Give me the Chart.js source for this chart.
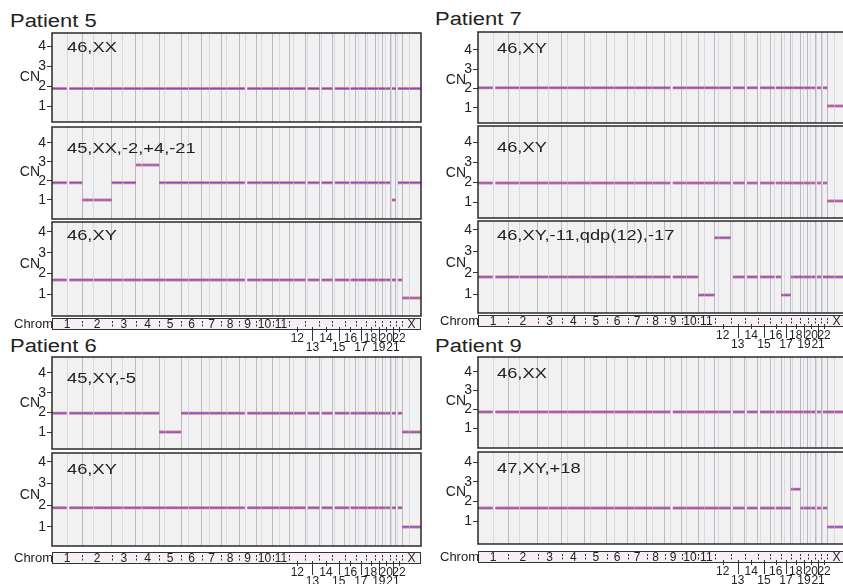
<!DOCTYPE html>
<html>
<head>
<meta charset="utf-8">
<script src="https://cdn.jsdelivr.net/npm/chart.js@4"></script>
<style>
html, body { margin: 0; padding: 0; background: #fff; overflow: hidden; }
#wrap { position: relative; width: 843px; height: 584px; overflow: hidden; }
#wrap canvas { position: absolute; }
.title { position: absolute; font: 18px "Liberation Sans", Arial, sans-serif; line-height: 18px; color: #222;
  transform: scaleX(1.22); transform-origin: 0 0; white-space: nowrap; }
</style>
</head>
<body>
<div id="wrap"></div>
<script>
const patients = ['Patient 5', 'Patient 6', 'Patient 7', 'Patient 9'];
const karyotypes = ['46,XX', '45,XX,-2,+4,-21', '46,XY', '45,XY,-5', '46,XY',
  '46,XY', '46,XY', '46,XY,-11,qdp(12),-17', '46,XX', '47,XY,+18'];

// chromosomes (Mb), the probe-free gap round each centromere
const chroms = ['1','2','3','4','5','6','7','8','9','10','11','12','13','14','15','16','17','18','19','20','21','22','X'];
const chromLen = [249,243,198,191,181,171,159,146,141,136,135,134,115,107,103,90,81,78,59,63,48,51,155];
const gapStart = [121,90,88,48,46,58,58,44,47,39,51,34,0,0,0,35,22,15,24,26,0,0,58];
const gapEnd   = [143,96,94,53,50,63,62,48,68,43,55,38,19,19,20,46,25,18,28,30,15,16,62];
const centro   = [125,93,91,50,48,60,60,45,49,40,53,35,17,17,19,36,24,17,26,28,13,15,60];

// copy number per chromosome (1..22, X)
const cnP5a = [1.87,1.87,1.87,1.87,1.87,1.87,1.87,1.87,1.87,1.87,1.87,1.87,1.87,1.87,1.87,1.87,1.87,1.87,1.87,1.87,1.87,1.87,1.87];
const cnP5b = [1.91,1.0,1.91,2.84,1.91,1.91,1.91,1.91,1.91,1.91,1.91,1.91,1.91,1.91,1.91,1.91,1.91,1.91,1.91,1.91,1.0,1.91,1.91];
const cnP5c = [1.68,1.68,1.68,1.68,1.68,1.68,1.68,1.68,1.68,1.68,1.68,1.68,1.68,1.68,1.68,1.68,1.68,1.68,1.68,1.68,1.68,1.68,0.81];
const cnP6a = [1.96,1.96,1.96,1.96,1.0,1.96,1.96,1.96,1.96,1.96,1.96,1.96,1.96,1.96,1.96,1.96,1.96,1.96,1.96,1.96,1.96,1.96,1.0];
const cnP6b = [1.88,1.88,1.88,1.88,1.88,1.88,1.88,1.88,1.88,1.88,1.88,1.88,1.88,1.88,1.88,1.88,1.88,1.88,1.88,1.88,1.88,1.88,1.0];
const cnP7a = [2.04,2.04,2.04,2.04,2.04,2.04,2.04,2.04,2.04,2.04,2.04,2.04,2.04,2.04,2.04,2.04,2.04,2.04,2.04,2.04,2.04,2.04,1.1];
const cnP7b = [1.95,1.95,1.95,1.95,1.95,1.95,1.95,1.95,1.95,1.95,1.95,1.95,1.95,1.95,1.95,1.95,1.95,1.95,1.95,1.95,1.95,1.95,1.05];
const cnP7c = [1.8,1.8,1.8,1.8,1.8,1.8,1.8,1.8,1.8,1.8,0.95,3.63,1.8,1.8,1.8,1.8,0.95,1.8,1.8,1.8,1.8,1.8,1.8];
const cnP9a = [1.86,1.86,1.86,1.86,1.86,1.86,1.86,1.86,1.86,1.86,1.86,1.86,1.86,1.86,1.86,1.86,1.86,1.86,1.86,1.86,1.86,1.86,1.86];
const cnP9b = [1.66,1.66,1.66,1.66,1.66,1.66,1.66,1.66,1.66,1.66,1.66,1.66,1.66,1.66,1.66,1.66,1.66,2.62,1.66,1.66,1.66,1.66,0.7];

const FONT = '"Liberation Sans", Arial, sans-serif';
const genome = chromLen.reduce((a, b) => a + b, 0);

// layout of the ten tracks
const panels = [
  { col: 0, top: 33,  bottom: 122, yMin: 0.2,   yMax: 4.65, cn: cnP5a, k: 0, dy: 19 },
  { col: 0, top: 127, bottom: 219, yMin: 0.0,   yMax: 4.84, cn: cnP5b, k: 1, dy: 26 },
  { col: 0, top: 222, bottom: 316, yMin: -0.06, yMax: 4.48, cn: cnP5c, k: 2, dy: 18, bar: 2 },
  { col: 0, top: 357, bottom: 449, yMin: 0.14,  yMax: 4.81, cn: cnP6a, k: 3, dy: 26 },
  { col: 0, top: 453, bottom: 546, yMin: 0.12,  yMax: 4.41, cn: cnP6b, k: 4, dy: 21, bar: 6 },
  { col: 1, top: 32,  bottom: 123, yMin: 0.22,  yMax: 4.93, cn: cnP7a, k: 5, dy: 21 },
  { col: 1, top: 126, bottom: 218, yMin: 0.2,   yMax: 4.8,  cn: cnP7b, k: 6, dy: 26 },
  { col: 1, top: 221, bottom: 313, yMin: 0.11,  yMax: 4.42, cn: cnP7c, k: 7, dy: 19, bar: 2 },
  { col: 1, top: 357, bottom: 448, yMin: -0.07, yMax: 4.8,  cn: cnP9a, k: 8, dy: 21 },
  { col: 1, top: 452, bottom: 544, yMin: -0.17, yMax: 4.51, cn: cnP9b, k: 9, dy: 21, bar: 7 }
];

const wrap = document.getElementById('wrap');

[[10, 12, 0], [10, 337, 1], [435, 10, 2], [435, 337, 3]].forEach(([x, y, i]) => {
  const d = document.createElement('div');
  d.className = 'title';
  d.style.left = x + 'px';
  d.style.top = y + 'px';
  d.textContent = patients[i];
  wrap.appendChild(d);
});

// segments per chromosome arm, broken at the centromere gaps
const profile = (cn) => {
  const pts = [];
  let start = 0;
  chromLen.forEach((len, c) => {
    const segs = gapStart[c] > 0 ? [[0, gapStart[c]], [gapEnd[c], len]] : [[gapEnd[c], len]];
    segs.forEach(([a, b]) => {
      pts.push({ x: start + a, y: cn[c] }, { x: start + b, y: cn[c] }, { x: start + b, y: null });
    });
    start += len;
  });
  return pts;
};

const vlines = [];
let acc = 0;
chromLen.forEach((len, c) => {
  vlines.push({ value: acc + centro[c], kind: 'c' });
  acc += len;
  if (c < chromLen.length - 1) vlines.push({ value: acc, kind: 'b' });
});

const drawBar = (chart, gap) => {
  const { ctx, chartArea: a } = chart;
  const xs = chart.scales.x;
  const top = a.bottom + gap, h = 11;
  ctx.save();
  ctx.fillStyle = '#f6f0f6';
  ctx.fillRect(a.left, top, a.right - a.left, h);
  ctx.strokeStyle = '#333';
  ctx.lineWidth = 1;
  ctx.strokeRect(a.left + 0.5, top + 0.5, a.right - a.left - 1, h);
  ctx.fillStyle = '#222';
  ctx.textAlign = 'center';
  ctx.textBaseline = 'alphabetic';
  let s = 0;
  chromLen.forEach((len, c) => {
    const x0 = Math.round(xs.getPixelForValue(s)) + 0.5;
    const xm = xs.getPixelForValue(s + len / 2);
    if (c > 0) {
      ctx.setLineDash([2, 1.5]);
      ctx.beginPath();
      ctx.moveTo(x0, top + 3);
      ctx.lineTo(x0, top + h - 2);
      ctx.stroke();
      ctx.setLineDash([]);
    }
    if (c < 11 || c === 22) {
      ctx.font = '12px ' + FONT;
      ctx.fillText(chroms[c], xm, top + h - 1.5);
    } else {
      const odd = (c + 1) % 2 === 1;
      const xl = Math.round(xm) + 0.5;
      ctx.beginPath();
      ctx.moveTo(xl, top + h - 2);
      ctx.lineTo(xl, top + h + (odd ? 12 : 3));
      ctx.stroke();
      ctx.font = '12px ' + FONT;
      ctx.fillText(chroms[c], xm, top + h + (odd ? 22 : 13));
    }
    s += len;
  });
  ctx.font = '13px ' + FONT;
  ctx.textAlign = 'right';
  ctx.fillText('Chrom', a.left + 1, top + h - 1);
  ctx.restore();
};

panels.forEach((p) => {
  const extra = p.bar !== undefined ? 48 : 0;
  const cv = document.createElement('canvas');
  const w = p.col ? 420 : 423;
  const h = p.bottom - p.top + 20 + extra;
  cv.width = w; cv.height = h;
  cv.style.width = w + 'px'; cv.style.height = h + 'px';
  cv.style.left = (p.col ? 426 : 0) + 'px';
  cv.style.top = (p.top - 10) + 'px';
  wrap.appendChild(cv);

  const data = profile(p.cn);
  new Chart(cv.getContext('2d'), {
    type: 'line',
    data: {
      datasets: [
        // first dataset is painted on top: blue core over a red rim
        { data: data, borderColor: 'rgba(90,84,200,0.9)', borderWidth: 1.2, pointRadius: 0, spanGaps: false },
        { data: data, borderColor: 'rgba(226,104,136,0.85)', borderWidth: 3, pointRadius: 0, spanGaps: false }
      ]
    },
    options: {
      responsive: false,
      animation: false,
      layout: { padding: { top: 10, bottom: 10 + extra, left: 0, right: p.col ? 0 : 2 } },
      plugins: { legend: { display: false }, tooltip: { enabled: false } },
      scales: {
        x: {
          type: 'linear', min: 0, max: genome,
          ticks: { display: false },
          border: { display: false },
          grid: {
            drawTicks: false,
            lineWidth: 1,
            color: (ctx) => ctx.tick && ctx.tick.kind === 'b' ? 'rgba(110,110,125,0.42)' : 'rgba(160,160,210,0.3)'
          },
          afterBuildTicks: (s) => { s.ticks = vlines.map(v => ({ value: v.value, kind: v.kind })); },
          afterFit: (s) => { s.height = 0; }
        },
        y: {
          min: p.yMin, max: p.yMax,
          border: { display: false },
          grid: { drawOnChartArea: false, drawTicks: true, tickLength: 5, tickColor: '#333', color: '#333' },
          ticks: { color: '#222', padding: 1, font: { family: FONT, size: 14 } },
          afterBuildTicks: (s) => { s.ticks = [1, 2, 3, 4].map(v => ({ value: v })); },
          afterFit: (s) => { s.width = 52; }
        }
      }
    },
    plugins: [{
      id: 'panel',
      beforeDraw(chart) {
        const { ctx, chartArea: a } = chart;
        ctx.save();
        ctx.fillStyle = '#f1f1f1';
        ctx.fillRect(a.left, a.top, a.right - a.left, a.bottom - a.top);
        ctx.restore();
      },
      afterDraw(chart) {
        const { ctx, chartArea: a } = chart;
        const ys = chart.scales.y;
        ctx.save();
        ctx.strokeStyle = '#2a2a2a';
        ctx.lineWidth = 1.5;
        ctx.strokeRect(a.left, a.top, a.right - a.left, a.bottom - a.top);
        ctx.fillStyle = '#222';
        ctx.font = '14px ' + FONT;
        ctx.textAlign = 'right';
        ctx.textBaseline = 'middle';
        ctx.fillText('CN', a.left - 12, (ys.getPixelForValue(3) + ys.getPixelForValue(2)) / 2 + 1);
        ctx.textAlign = 'left';
        ctx.textBaseline = 'alphabetic';
        ctx.font = '15px ' + FONT;
        ctx.translate(a.left + (p.col ? 19 : 15), a.top + p.dy);
        ctx.scale(1.22, 1);
        ctx.fillText(karyotypes[p.k], 0, 0);
        ctx.restore();
        if (p.bar !== undefined) drawBar(chart, p.bar);
      }
    }]
  });
});
</script>
</body>
</html>
